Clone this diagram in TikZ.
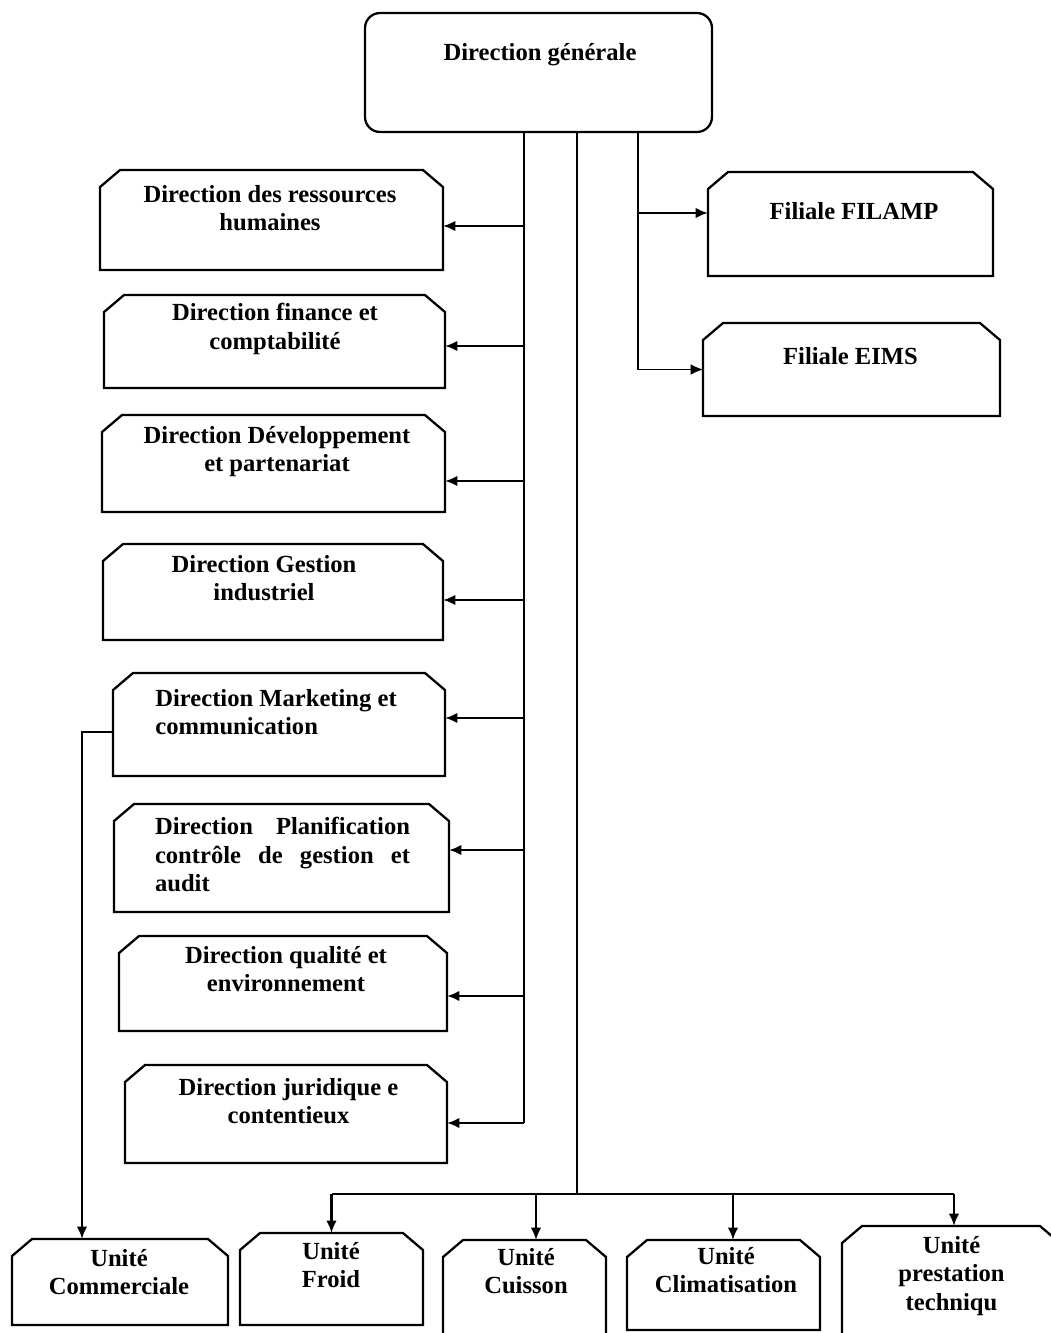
\documentclass[tikz,border=0pt]{standalone}
\usepackage{fontspec}
\setmainfont{Liberation Serif}
\usetikzlibrary{arrows.meta, calc}

\begin{document}
\begin{tikzpicture}[x=0.02cm, y=-0.02cm,
    boxline/.style={draw=black, line width=1.3pt, line join=miter},
    dirbox/.style={rectangle, inner sep=0pt, outer sep=0pt,
        append after command={\pgfextra{\draw[boxline]
            (\tikzlastnode.south west) -- ([yshift=-0.34cm]\tikzlastnode.north west)
            -- ([xshift=0.4cm]\tikzlastnode.north west) -- ([xshift=-0.4cm]\tikzlastnode.north east)
            -- ([yshift=-0.34cm]\tikzlastnode.north east) -- (\tikzlastnode.south east) -- cycle;}}},
    topbox/.style={rectangle, draw=black, rounded corners=3mm, line width=1.3pt, fill=none},
    txt/.style={align=center, inner sep=0pt, text=black,
        font=\bfseries\fontsize{14}{16}\selectfont},
    trunk/.style={line width=1.5pt},
    thinline/.style={line width=0.7pt},
    arr/.style={line width=1.5pt, -{Latex[length=7pt,width=6pt]}},
    % arrthin/.style={line width=0.7pt, -{Latex[length=7pt,width=6pt]}},
]
\useasboundingbox (0,0) rectangle (1051,1333);

% direction generale
\node (dg) [topbox, minimum width=6.94cm, minimum height=2.38cm] at (538.5,72.5) {};
\node (dg-l) [txt] at (540,55) {Direction générale};

% directions (left column)
\node (drh) [dirbox, minimum width=6.86cm, minimum height=2.0cm] at (271.5,220) {};
\node (drh-l) [txt] at (270,208) {Direction des ressources\\humaines};
\node (fin) [dirbox, minimum width=6.82cm, minimum height=1.86cm] at (274.5,341.5) {};
\node (fin-l) [txt] at (275,329) {Direction finance et\\comptabilité};
\node (dev) [dirbox, minimum width=6.86cm, minimum height=1.94cm] at (273.5,463.5) {};
\node (dev-l) [txt] at (277,451.5) {Direction Développement\\et partenariat};
\node (ges) [dirbox, minimum width=6.8cm, minimum height=1.92cm] at (273,592) {};
\node (ges-l) [txt] at (264,578) {Direction Gestion\\industriel};
\node (mkt) [dirbox, minimum width=6.64cm, minimum height=2.06cm] at (279,724.5) {};
\node (mkt-l) [txt, align=left, anchor=west] at (155,712) {Direction Marketing et\\communication};
\node (pla) [dirbox, minimum width=6.7cm, minimum height=2.16cm] at (281.5,858) {};
\node (pla-l) [txt, align=justify, text width=5.1cm] at (282.5,854.5)
    {Direction Planification\linebreak contrôle de gestion et\linebreak audit};
\node (qua) [dirbox, minimum width=6.56cm, minimum height=1.9cm] at (283,983.5) {};
\node (qua-l) [txt] at (286,969) {Direction qualité et\\environnement};
\node (jur) [dirbox, minimum width=6.44cm, minimum height=1.96cm] at (286,1114) {};
\node (jur-l) [txt] at (288.5,1101) {Direction juridique e\\contentieux};

% filiales
\node (fil) [dirbox, minimum width=5.7cm, minimum height=2.08cm] at (850.5,224) {};
\node (fil-l) [txt] at (854,211) {Filiale FILAMP};
\node (eims) [dirbox, minimum width=5.94cm, minimum height=1.86cm] at (851.5,369.5) {};
\node (eims-l) [txt] at (850.5,356) {Filiale EIMS};

% unites
\node (com) [dirbox, minimum width=4.32cm, minimum height=1.72cm] at (120,1282) {};
\node (com-l) [txt] at (119,1272) {Unité\\Commerciale};
\node (fro) [dirbox, minimum width=3.66cm, minimum height=1.84cm] at (331.5,1279) {};
\node (fro-l) [txt] at (331,1265.5) {Unité\\Froid};
\node (cui) [dirbox, minimum width=3.26cm, minimum height=1.9cm] at (524.5,1287.5) {};
\node (cui-l) [txt] at (526,1271.5) {Unité\\Cuisson};
\node (cli) [dirbox, minimum width=3.86cm, minimum height=1.8cm] at (723.5,1285) {};
\node (cli-l) [txt] at (726,1270) {Unité\\Climatisation};
\node (pre) [dirbox, minimum width=4.36cm, minimum height=2.28cm] at (951,1283) {};
\node (pre-l) [txt] at (951.5,1276) {Unité\\prestation\\techniqu};

% links to the directions
\coordinate (t1) at (524,0);
\foreach \n/\d in {drh/6, fin/4.5, dev/17.5, ges/8, mkt/-6.5, pla/-8, qua/12.5, jur/9}
    \coordinate (a-\n) at ($(\n.east)+(0,\d)$);
\draw[trunk] (dg.south -| t1) -- (t1 |- a-jur);
\foreach \n in {drh, fin, dev, ges, mkt, pla, qua, jur}
    \draw[arr] (t1 |- a-\n) -- (a-\n);

% links to the filiales
\coordinate (t3) at (638,0);
\coordinate (a-fil) at ($(fil.west)+(0,-11)$);
\draw[thinline] (dg.south -| t3) -- (t3 |- eims.west);
\draw[arr] (t3 |- a-fil) -- (a-fil);
\draw[arr, line width=0.7pt] (t3 |- eims.west) -- (eims.west);

% links to the unites
\coordinate (bar) at (577,1194);
\foreach \n/\d in {fro/0, cui/11.5, cli/9.5, pre/3}
    \coordinate (b-\n) at ($(\n.north)+(\d,0)$);
\draw[trunk] (dg.south -| bar) -- (bar);
\draw[trunk] (bar -| b-fro) -- (bar -| b-pre);
\foreach \n in {fro, cui, cli, pre}
    \draw[arr] (bar -| b-\n) -- (b-\n);

% marketing -> unite commerciale
\coordinate (m-out) at ($(mkt.west)+(0,7.5)$);
\coordinate (c-in) at ($(com.north)+(-38,0)$);
\draw[arr] (m-out) -| (c-in);

\end{tikzpicture}
\end{document}
